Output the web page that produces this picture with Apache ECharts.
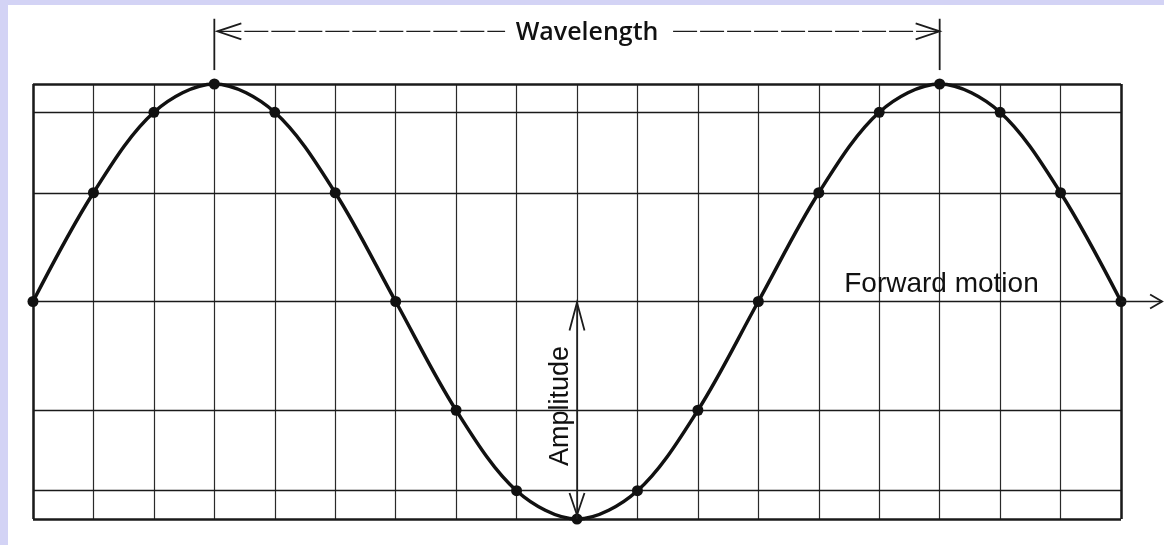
<!DOCTYPE html>
<html>
<head>
<meta charset="utf-8">
<script src="https://cdn.jsdelivr.net/npm/echarts@6/dist/echarts.min.js"></script>
<style>
  html, body { margin: 0; padding: 0; background: #d3d3f5; width: 1164px; height: 545px; overflow: hidden; }
  #chart { position: absolute; left: 8px; top: 5px; width: 1156px; height: 540px; background: #ffffff; }
</style>
</head>
<body>
<div id="chart"></div>
<script>
// Grid positions along the wave (vertical grid lines)
const positions = [0, 1, 2, 3, 4, 5, 6, 7, 8, 9, 10, 11, 12, 13, 14, 15, 16, 17, 18];
// Displacement read at each grid line
const waveValues = [0, 0.5, 0.87, 1, 0.87, 0.5, 0, -0.5, -0.87, -1, -0.87, -0.5, 0, 0.5, 0.87, 1, 0.87, 0.5, 0];
// Horizontal grid levels
const gridLevels = [1, 0.87, 0.5, 0, -0.5, -0.87, -1];
// Annotation texts
const labelWavelength = 'Wavelength';
const labelForward = 'Forward motion';
const labelAmplitude = 'Amplitude';

const chart = echarts.init(document.getElementById('chart'), null, { renderer: 'canvas' });

const lineData = positions.map((p, i) => [p, waveValues[i]]);

const option = {
  animation: false,
  backgroundColor: '#ffffff',
  grid: { left: 25, right: 43, top: 79, bottom: 26, containLabel: false },
  xAxis: {
    type: 'value', min: 0, max: 18, interval: 1,
    axisLine: { show: false }, axisTick: { show: false }, axisLabel: { show: false },
    splitLine: { show: true, lineStyle: { color: '#2a2a2a', width: 1.2 } }
  },
  yAxis: {
    type: 'value', min: -1, max: 1,
    axisLine: { show: false }, axisTick: { show: false }, axisLabel: { show: false },
    splitLine: { show: false }
  },
  series: [
    {
      type: 'line',
      data: lineData,
      smooth: 0.33,
      clip: false,
      symbol: 'circle',
      symbolSize: 11,
      itemStyle: { color: '#111111' },
      lineStyle: { color: '#111111', width: 3.5 },
      z: 5,
      markLine: {
        silent: true,
        symbol: ['none', 'none'],
        label: { show: false },
        animation: false,
        data: gridLevels.map(v => ({
          yAxis: v,
          lineStyle: { color: '#1a1a1a', width: (v === 1 || v === -1) ? 2.5 : 1.3, type: 'solid' }
        })).concat([
          { xAxis: 0, lineStyle: { color: '#1a1a1a', width: 2.5, type: 'solid' } },
          { xAxis: 18, lineStyle: { color: '#1a1a1a', width: 2.5, type: 'solid' } }
        ])
      }
    }
  ]
};
chart.setOption(option);

// Annotation placement in data units (converted through the chart's own scales)
const ann = {
  waveStart: 3, waveEnd: 15, waveY: 1.242, tickTop: 1.30, tickBottom: 1.064,
  waveLabelX: 9.2, waveLabelY: 1.233,
  ampX: 9, ampTop: 0, ampBottom: -1, ampLabelX: 8.72, ampLabelY: -0.48,
  fwdStart: 18, fwdEnd: 18.68, fwdY: 0, fwdLabelX: 15.03, fwdLabelY: 0.078
};
const px = (x, y) => chart.convertToPixel({ gridIndex: 0 }, [x, y]);

const ink = '#1c1c1c';
const g = [];
function line(a, b, w, extra) {
  g.push({ type: 'line', shape: { x1: a[0], y1: a[1], x2: b[0], y2: b[1] },
           style: Object.assign({ stroke: ink, lineWidth: w }, extra || {}), z: 10 });
}
function chevron(tip, dx, dy, spread) {
  const len = Math.hypot(dx, dy);
  const ux = dx / len, uy = dy / len;
  const nx = -uy, ny = ux;
  g.push({ type: 'polyline', shape: { points: [
      [tip[0] + dx + nx * spread, tip[1] + dy + ny * spread],
      tip,
      [tip[0] + dx - nx * spread, tip[1] + dy - ny * spread]] },
    style: { stroke: ink, lineWidth: 1.8, fill: null }, z: 10 });
}

// Wavelength dimension
const wL = px(ann.waveStart, ann.waveY), wR = px(ann.waveEnd, ann.waveY);
const wLabel = px(ann.waveLabelX, ann.waveLabelY);
line(px(ann.waveStart, ann.tickTop), px(ann.waveStart, ann.tickBottom), 1.8);
line(px(ann.waveEnd, ann.tickTop), px(ann.waveEnd, ann.tickBottom), 1.8);
line([wL[0] + 3, wL[1]], [wLabel[0] - 84, wL[1]], 1.3, { lineDash: [24, 3] });
line([wLabel[0] + 84, wR[1]], [wR[0], wR[1]], 1.3, { lineDash: [24, 3] });
chevron([wL[0] + 3, wL[1]], 24, 0, 8);
chevron([wR[0], wR[1]], -24, 0, 8);
g.push({ type: 'text', x: wLabel[0] - 2, y: wLabel[1], z: 10,
  style: { text: labelWavelength, fill: '#111', font: '600 25px "Open Sans", sans-serif', align: 'center', verticalAlign: 'middle' } });

// Amplitude
const aT = px(ann.ampX, ann.ampTop), aB = px(ann.ampX, ann.ampBottom);
line(aT, aB, 1.5);
chevron([aT[0], aT[1] + 1], 0, 28, 7.5);
chevron([aB[0], aB[1] - 4], 0, -22, 7.5);
const aLab = px(ann.ampLabelX, ann.ampLabelY);
g.push({ type: 'text', x: aLab[0], y: aLab[1], rotation: Math.PI / 2, z: 10,
  style: { text: labelAmplitude, fill: '#111', font: '27px "Liberation Sans", Arial, sans-serif', align: 'center', verticalAlign: 'middle' } });

// Forward motion
const fS = px(ann.fwdStart, ann.fwdY), fE = px(ann.fwdEnd, ann.fwdY);
line(fS, fE, 1.3);
chevron(fE, -12, 0, 7);
const fLab = px(ann.fwdLabelX, ann.fwdLabelY);
g.push({ type: 'text', x: fLab[0], y: fLab[1], z: 10,
  style: { text: labelForward, fill: '#111', font: '28px "Liberation Sans", Arial, sans-serif', align: 'center', verticalAlign: 'middle' } });

chart.setOption({ graphic: g });
</script>
</body>
</html>
